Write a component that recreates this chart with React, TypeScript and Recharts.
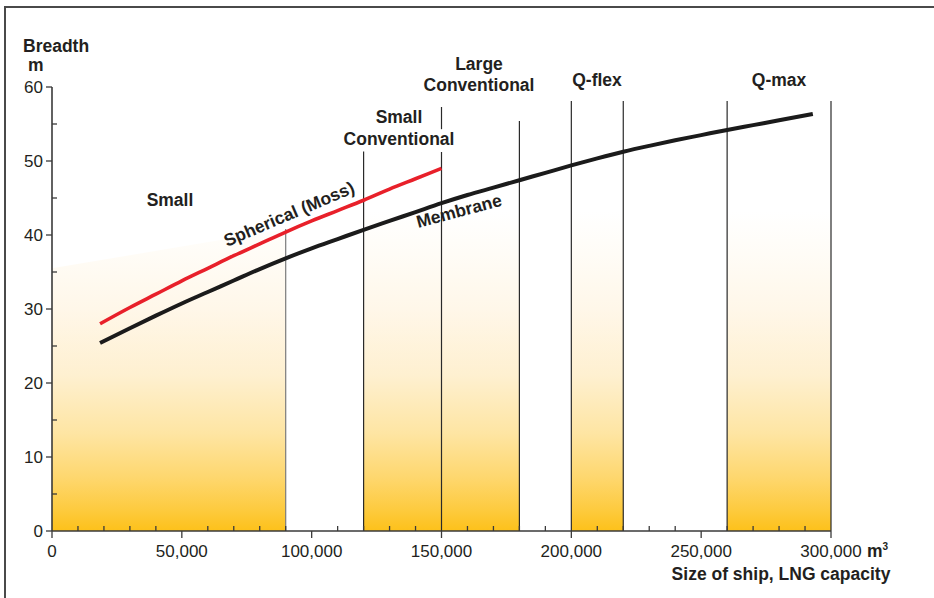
import React from 'react';
import { ComposedChart, Line, Area, XAxis, YAxis, ReferenceArea, ReferenceLine } from 'recharts';

// Membrane tank ships: breadth (m) vs LNG capacity (m3)
const membrane = [
  { x: 18500, y: 25.4 },
  { x: 30000, y: 27.4 },
  { x: 40000, y: 29.1 },
  { x: 50000, y: 30.75 },
  { x: 60000, y: 32.3 },
  { x: 70000, y: 33.85 },
  { x: 80000, y: 35.4 },
  { x: 90000, y: 36.85 },
  { x: 100000, y: 38.2 },
  { x: 110000, y: 39.45 },
  { x: 120000, y: 40.7 },
  { x: 130000, y: 41.9 },
  { x: 140000, y: 43.1 },
  { x: 150000, y: 44.3 },
  { x: 160000, y: 45.4 },
  { x: 170000, y: 46.4 },
  { x: 180000, y: 47.4 },
  { x: 190000, y: 48.4 },
  { x: 200000, y: 49.4 },
  { x: 210000, y: 50.35 },
  { x: 220000, y: 51.25 },
  { x: 230000, y: 52.05 },
  { x: 240000, y: 52.8 },
  { x: 250000, y: 53.5 },
  { x: 260000, y: 54.2 },
  { x: 270000, y: 54.85 },
  { x: 280000, y: 55.5 },
  { x: 293000, y: 56.35 },
];

// Spherical (Moss) tank ships
const spherical = [
  { x: 18500, y: 28.0 },
  { x: 30000, y: 30.2 },
  { x: 40000, y: 32.0 },
  { x: 50000, y: 33.8 },
  { x: 60000, y: 35.5 },
  { x: 70000, y: 37.2 },
  { x: 80000, y: 38.8 },
  { x: 90000, y: 40.4 },
  { x: 100000, y: 41.9 },
  { x: 110000, y: 43.3 },
  { x: 120000, y: 44.7 },
  { x: 130000, y: 46.2 },
  { x: 140000, y: 47.6 },
  { x: 150000, y: 49.0 },
];

// "Small" size class band with a sloping top
const smallBand = [
  { x: 0, y: 35.5 },
  { x: 90000, y: 40.8 },
];

// other size class bands
const bands = [
  { x1: 120000, x2: 150000, top: 51.3 },
  { x1: 150000, x2: 180000, top: 55.4 },
  { x1: 200000, x2: 220000, top: 58.1 },
  { x1: 260000, x2: 300000, top: 58.1 },
];

// vertical divider segments
const dividers = [
  { x: 90000, from: 0, to: 40.8 },
  { x: 120000, from: 0, to: 51.3 },
  { x: 150000, from: 0, to: 51.2 },
  { x: 150000, from: 54.3, to: 57.3 },
  { x: 180000, from: 0, to: 55.4 },
  { x: 200000, from: 0, to: 58.1 },
  { x: 220000, from: 0, to: 58.1 },
  { x: 260000, from: 0, to: 58.1 },
  { x: 300000, from: 0, to: 58.1 },
];

const xTicks = [0, 10000, 20000, 30000, 40000, 50000, 60000, 70000, 80000, 90000, 100000, 110000, 120000, 130000, 140000, 150000, 160000, 170000, 180000, 190000, 200000, 210000, 220000, 230000, 240000, 250000, 260000, 270000, 280000, 290000, 300000];
const yTicks = [0, 5, 10, 15, 20, 25, 30, 35, 40, 45, 50, 55, 60];

const FONT = '"Liberation Sans", Arial, Helvetica, sans-serif';
const TXT = '#231f20';
const AX = '#3a3a3a';

const XTick = (props: any) => {
  const { x, y, payload } = props;
  const v = payload.value as number;
  const major = v % 50000 === 0;
  return (
    <g>
      <line x1={x} x2={x} y1={y} y2={major ? y + 7 : y - 5} stroke={AX} strokeWidth={1.3} />
      {major && (
        <text x={x} y={y + 26} textAnchor="middle" fontSize={17} fontFamily={FONT} fill={TXT}>
          {v.toLocaleString('en-US')}
        </text>
      )}
    </g>
  );
};

const YTick = (props: any) => {
  const { x, y, payload } = props;
  const v = payload.value as number;
  const major = v % 10 === 0;
  return (
    <g>
      <line x1={x} x2={major ? x - 6 : x + 5} y1={y} y2={y} stroke={AX} strokeWidth={1.3} />
      {major && (
        <text x={x - 9} y={y + 6} textAnchor="end" fontSize={17} fontFamily={FONT} fill={TXT}>
          {v}
        </text>
      )}
    </g>
  );
};

const lbl = { fontSize: 17.5, fontWeight: 700, fontFamily: FONT, fill: TXT } as const;

export default function App() {
  return (
    <div style={{ position: 'absolute', left: 0, top: 0, width: 934, height: 598, background: '#fff' }}>
      <div
        style={{
          position: 'absolute',
          left: 4,
          top: 6,
          width: 930,
          height: 592,
          borderTop: '2px solid #4a4a4a',
          borderLeft: '2px solid #4a4a4a',
          boxSizing: 'border-box',
          pointerEvents: 'none',
        }}
      />
      <ComposedChart width={934} height={598} margin={{ top: 87, right: 103, bottom: 27, left: 12 }}>
        <defs>
          <linearGradient id="fade" gradientUnits="userSpaceOnUse" x1="0" y1="531" x2="0" y2="87">
            <stop offset="0" stopColor="#fdc11a" />
            <stop offset="0.05" stopColor="#fdcb40" />
            <stop offset="0.12" stopColor="#fed76e" />
            <stop offset="0.22" stopColor="#fee5a3" />
            <stop offset="0.35" stopColor="#fef0d0" />
            <stop offset="0.5" stopColor="#fff7e9" />
            <stop offset="0.62" stopColor="#fffcf6" />
            <stop offset="0.72" stopColor="#ffffff" />
          </linearGradient>
        </defs>
        <XAxis
          type="number"
          dataKey="x"
          domain={[0, 300000]}
          ticks={xTicks}
          interval={0}
          tick={<XTick />}
          tickLine={false}
          tickSize={0}
          tickMargin={0}
          height={40}
          axisLine={{ stroke: AX, strokeWidth: 1.6 }}
          allowDataOverflow
        />
        <YAxis
          type="number"
          dataKey="y"
          domain={[0, 60]}
          ticks={yTicks}
          interval={0}
          tick={<YTick />}
          tickLine={false}
          tickSize={0}
          tickMargin={0}
          width={40}
          axisLine={{ stroke: AX, strokeWidth: 1.6 }}
          allowDataOverflow
        />
        <Area
          data={smallBand}
          dataKey="y"
          type="linear"
          fill="url(#fade)"
          fillOpacity={1}
          stroke="none"
          isAnimationActive={false}
        />
        {bands.map((b, i) => (
          <ReferenceArea key={i} x1={b.x1} x2={b.x2} y1={0} y2={b.top} fill="url(#fade)" fillOpacity={1} stroke="none" />
        ))}
        {dividers.map((d, i) => (
          <ReferenceLine
            key={i}
            segment={[{ x: d.x, y: d.from }, { x: d.x, y: d.to }]}
            stroke={d.x === 90000 ? '#7a7a7a' : '#2a2a2a'}
            strokeWidth={1.2}
          />
        ))}
        <Line data={spherical} dataKey="y" type="monotone" stroke="#e8202a" strokeWidth={3.6} dot={false} isAnimationActive={false} />
        <Line data={membrane} dataKey="y" type="monotone" stroke="#1b1b1b" strokeWidth={4} dot={false} isAnimationActive={false} />
      </ComposedChart>
      <svg
        width={934}
        height={598}
        style={{ position: 'absolute', left: 0, top: 0, pointerEvents: 'none' }}
      >
        <text x={23} y={52} {...lbl}>Breadth</text>
        <text x={28} y={71} {...lbl}>m</text>
        <text x={479} y={70} textAnchor="middle" {...lbl}>Large</text>
        <text x={479} y={91} textAnchor="middle" {...lbl}>Conventional</text>
        <text x={597} y={86} textAnchor="middle" {...lbl}>Q-flex</text>
        <text x={779} y={86} textAnchor="middle" {...lbl}>Q-max</text>
        <text x={399} y={123} textAnchor="middle" {...lbl}>Small</text>
        <text x={399} y={145} textAnchor="middle" {...lbl}>Conventional</text>
        <text x={170} y={206} textAnchor="middle" {...lbl}>Small</text>
        <text x={289} y={220} textAnchor="middle" transform="rotate(-23 289 214)" {...lbl}>Spherical (Moss)</text>
        <text x={459} y={217} textAnchor="middle" transform="rotate(-15 459 211)" {...lbl}>Membrane</text>
        <text x={867} y={557} {...lbl}>
          m<tspan fontSize={10} dy={-7}>3</tspan>
        </text>
        <text x={781} y={580} textAnchor="middle" {...lbl}>Size of ship, LNG capacity</text>
      </svg>
    </div>
  );
}
